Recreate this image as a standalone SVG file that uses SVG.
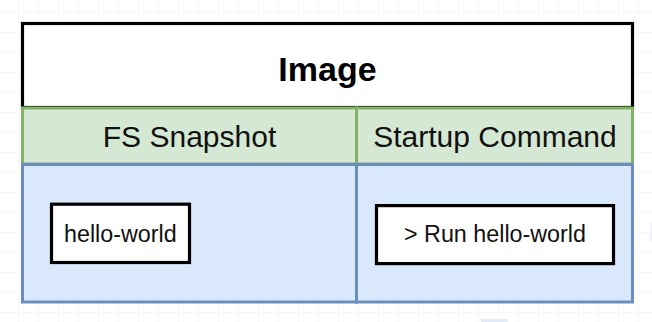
<svg xmlns="http://www.w3.org/2000/svg" width="652" height="322" viewBox="0 0 652 322">
  <defs>
    <pattern id="grid" width="20" height="20" patternUnits="userSpaceOnUse" x="-2" y="-8">
      <path d="M 20 0 L 0 0 0 20" fill="none" stroke="#efefef" stroke-width="1"/>
    </pattern>
  </defs>
  <style>
    .lbl { font-family: "Liberation Sans", Arial, sans-serif; fill: #111; text-anchor: middle; }
    .title { font-weight: bold; font-size: 34px; fill: #000; }
    .head { font-size: 30px; }
    .small { font-size: 23.3px; }
    .hdr { fill: #d5e8d4; stroke: #82b366; stroke-width: 3; }
    .body { fill: #dae8fc; stroke: #6c8ebf; stroke-width: 3; }
    .item { fill: #ffffff; stroke: #000; stroke-width: 3.2; }
  </style>

  <!-- canvas grid -->
  <rect width="652" height="322" fill="#ffffff"/>
  <rect width="652" height="322" fill="url(#grid)"/>
  <rect x="481" y="319" width="27" height="3" fill="#e3ebf8"/>
  <rect x="650" y="222" width="2" height="20" fill="#eef2fa"/>

  <!-- image container -->
  <g id="image">
    <rect x="22.5" y="23.5" width="610" height="84" fill="#ffffff" stroke="#000" stroke-width="3.2"/>
    <text class="lbl title" x="327.5" y="80.5">Image</text>
  </g>

  <g id="fs-snapshot">
    <rect class="hdr" x="22.5" y="108" width="334" height="56"/>
    <text class="lbl head" x="189.5" y="146.5">FS Snapshot</text>
    <rect class="body" x="22.5" y="164.5" width="334" height="137.5"/>
  </g>

  <g id="startup-command">
    <rect class="hdr" x="356.5" y="108" width="276" height="56"/>
    <text class="lbl head" x="495" y="146.5">Startup Command</text>
    <rect class="body" x="356.5" y="164.5" width="276" height="137.5"/>
  </g>

  <g id="hello-world">
    <rect class="item" x="51.5" y="204.2" width="138" height="58.3"/>
    <text class="lbl small" x="120.3" y="241.7">hello-world</text>
  </g>

  <g id="run-hello-world">
    <rect class="item" x="376.5" y="205.6" width="237" height="58"/>
    <text class="lbl small" x="495" y="242.2">&gt; Run hello-world</text>
  </g>

  <g id="connectors"/>
</svg>
